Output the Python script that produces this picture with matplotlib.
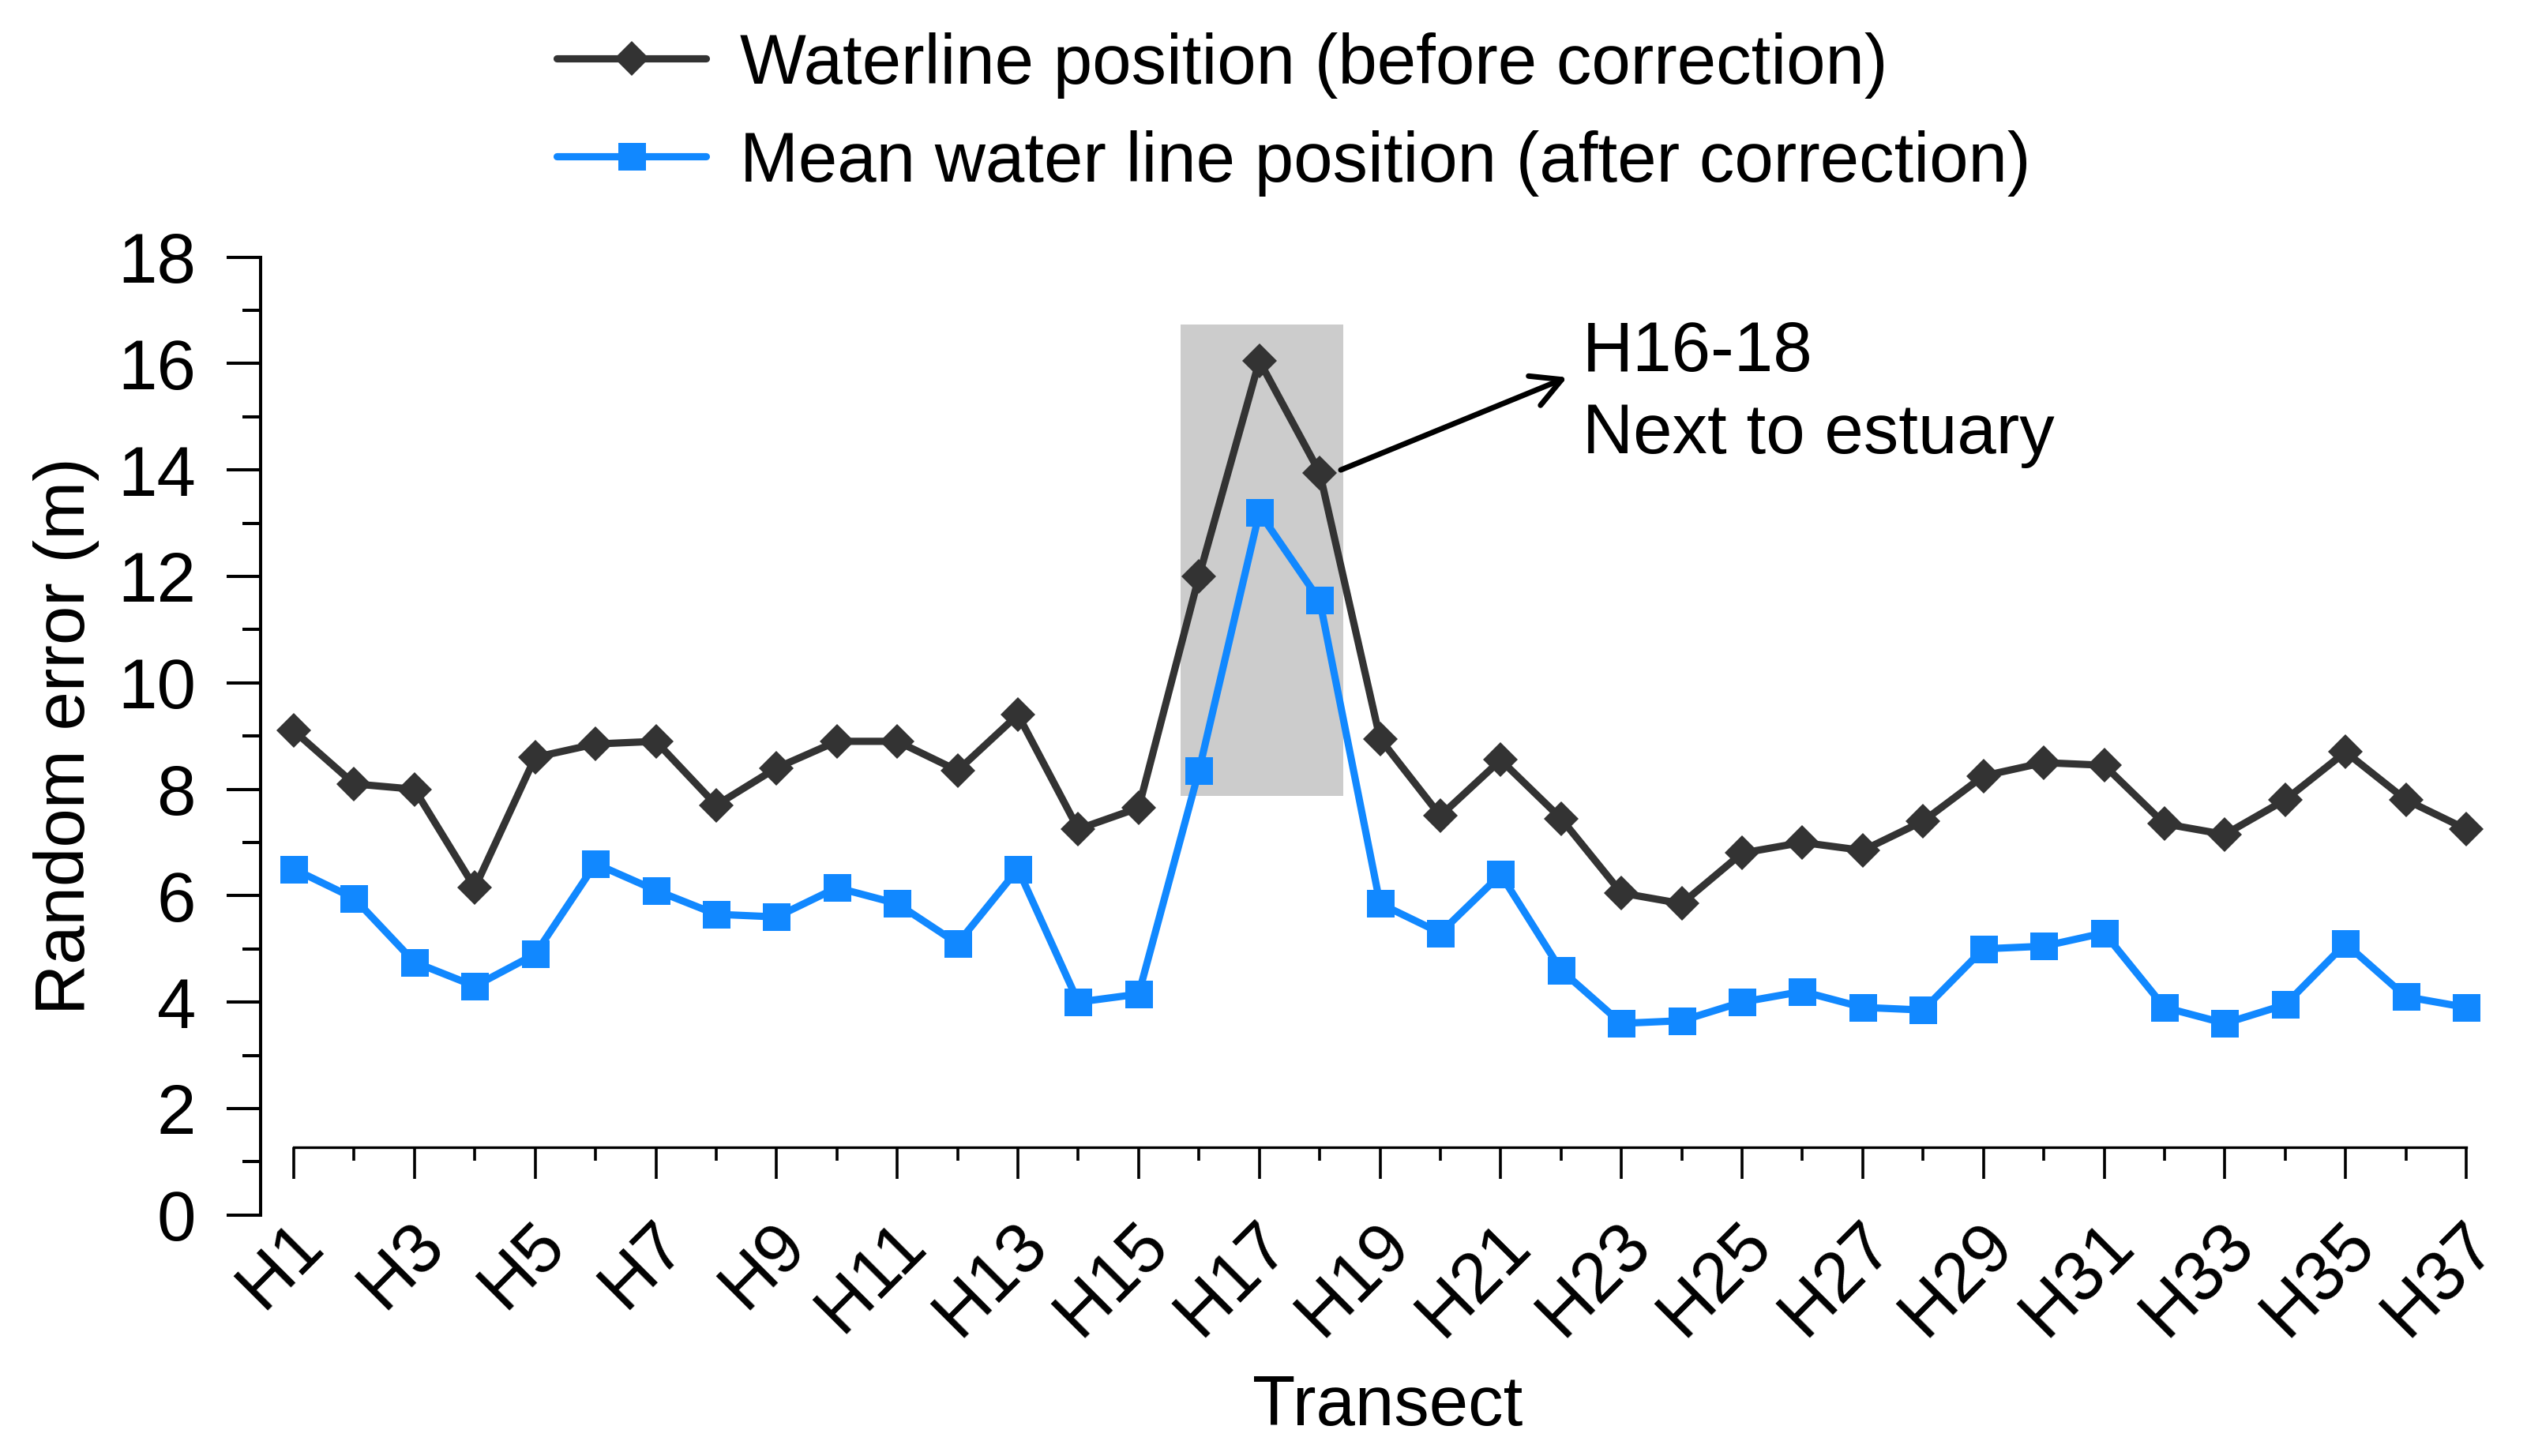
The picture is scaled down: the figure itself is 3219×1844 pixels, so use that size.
import numpy as np
import matplotlib
matplotlib.use('Agg')
from matplotlib import pyplot as plt
from matplotlib.patches import Rectangle
from matplotlib.transforms import ScaledTranslation

plt.rcParams['font.family'] = ['Liberation Sans', 'DejaVu Sans']
plt.rcParams['font.size'] = 32

# transect number and random error (m)
transect = np.arange(1, 38)
before = [9.1, 8.1, 8.0, 6.15, 8.6, 8.85, 8.9, 7.7, 8.4, 8.9,
          8.9, 8.35, 9.4, 7.25, 7.65, 12.0, 16.05, 13.95, 8.95, 7.5,
          8.55, 7.45, 6.05, 5.85, 6.8, 7.0, 6.85, 7.4, 8.25, 8.5,
          8.45, 7.35, 7.15, 7.8, 8.7, 7.8, 7.25]
after = [6.5, 5.95, 4.75, 4.3, 4.9, 6.6, 6.1, 5.65, 5.6, 6.15,
         5.85, 5.1, 6.5, 4.0, 4.15, 8.35, 13.2, 11.55, 5.85, 5.3,
         6.4, 4.6, 3.6, 3.65, 4.0, 4.2, 3.9, 3.85, 5.0, 5.05,
         5.3, 3.9, 3.6, 3.95, 5.1, 4.1, 3.9]
major_x = np.arange(1, 38, 2)
major_lab = ['H{}'.format(i) for i in major_x]
labels = ['Waterline position (before correction)',
          'Mean water line position (after correction)']

fig = plt.figure(figsize=(16.095, 9.22), dpi=200)
ax = fig.add_axes([0.10252, 0.16557, 0.9702 - 0.10252, 0.65786])

# highlight H16-18
ax.add_patch(Rectangle((15.69, 7.87), 18.39 - 15.69, 16.73 - 7.87,
                       facecolor='#CCCCCC', edgecolor='none', zorder=1))

l1, = ax.plot(transect, before, color='#333333', lw=3.3, marker='D', ms=11.2,
              mew=0, solid_capstyle='round', zorder=3, clip_on=False, label=labels[0])
l2, = ax.plot(transect, after, color='#1188FF', lw=3.3, marker='s', ms=12.6,
              mew=0, solid_capstyle='round', zorder=3, clip_on=False, label=labels[1])

ax.annotate('', xy=(22.1, 15.74), xytext=(18.35, 14.0),
            arrowprops=dict(arrowstyle='->,head_length=0.67,head_width=0.36',
                            lw=2.5, color='black', mutation_scale=20,
                            shrinkA=0, shrinkB=0))
ax.text(22.35, 16.82, 'H16-18\nNext to estuary', ha='left', va='top',
        fontsize=32, linespacing=1.3)

ax.set_xlim(0.45, 37)
ax.set_ylim(0, 18)
for s in ['top', 'right']:
    ax.spines[s].set_visible(False)
ax.spines['left'].set_bounds(0, 18)
ax.spines['left'].set_linewidth(1.45)
ax.spines['bottom'].set_position(('data', 1.27))
ax.spines['bottom'].set_bounds(1, 37)
ax.spines['bottom'].set_linewidth(1.2)

ax.set_yticks(np.arange(0, 19, 2))
ax.set_yticks(np.arange(1, 18, 2), minor=True)
ax.set_xticks(major_x)
ax.set_xticklabels(major_lab, rotation=45, ha='right', va='center',
                   rotation_mode='anchor')
ax.set_xticks(np.arange(2, 37, 2), minor=True)
ax.tick_params(axis='y', which='major', length=15.5, width=1.45, pad=14, labelsize=32)
ax.tick_params(axis='y', which='minor', length=8.3, width=1.45)
ax.tick_params(axis='x', which='major', length=14.4, width=1.3, pad=25, labelsize=32)
ax.tick_params(axis='x', which='minor', length=6, width=1.3)
shift = ScaledTranslation(24 / 200, 0, fig.dpi_scale_trans)
for lab in ax.get_xticklabels():
    lab.set_transform(lab.get_transform() + shift)

ax.set_ylabel('Random error (m)', fontsize=32)
ax.yaxis.set_label_coords(-0.073, 0.5)
ax.set_xlabel('Transect', fontsize=32)
ax.xaxis.set_label_coords(0.511, -0.166)

fig.legend(handles=[l1, l2], loc='upper left', bbox_to_anchor=(705 / 3219, 0.978),
           frameon=False, fontsize=32, handlelength=2.13, handletextpad=0.48,
           labelspacing=0.45, borderpad=0, borderaxespad=0, numpoints=1)

fig.savefig('out.png', dpi=200)
